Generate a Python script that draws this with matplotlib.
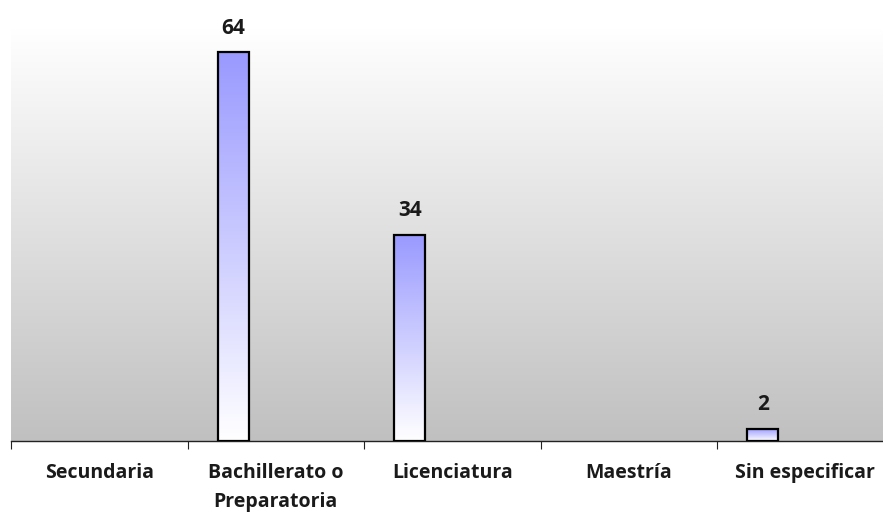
import numpy as np
import matplotlib

matplotlib.use("Agg")
import matplotlib.pyplot as plt
from matplotlib.colors import LinearSegmentedColormap

categories = ["Secundaria", "Bachillerato o\nPreparatoria", "Licenciatura", "Maestría", "Sin especificar"]
values = [0, 64, 34, 0, 2]

plt.rcParams["font.family"] = ["Open Sans", "DejaVu Sans"]

fig = plt.figure(figsize=(8.83, 5.13), dpi=100)
ax = fig.add_axes([11 / 883, 72 / 513, 5 * 176.5 / 883, 413 / 513])

n = len(categories)
ax.set_xlim(0, n)
ax.set_ylim(0, 68)

# fondo degradado blanco -> gris
bg = LinearSegmentedColormap.from_list("bg", ["#c0c0c0", "#ffffff"])
ax.imshow(np.linspace(0, 1, 256).reshape(-1, 1), cmap=bg, aspect="auto",
          extent=[0, n, 0, 68], origin="lower", zorder=0)

# barras con degradado azul -> blanco
bar_cm = LinearSegmentedColormap.from_list("bar", ["#ffffff", "#9999ff"])
pos = np.arange(n) + 0.26
w = 0.175
for x, v in zip(pos, values):
    if v <= 0:
        continue
    b = ax.bar(x, v, width=w, facecolor="none", edgecolor="black", linewidth=1.6, zorder=3)[0]
    im = ax.imshow(np.linspace(0, 1, 256).reshape(-1, 1), cmap=bar_cm, aspect="auto",
                   extent=[x - w / 2, x + w / 2, 0, v], origin="lower", zorder=2)
    im.set_clip_path(b)
    ax.text(x, v + 4.0, str(v), ha="center", va="center", fontsize=15, fontweight="bold",
            color="#1a1a1a")

ax.set_xlim(0, n)
ax.set_ylim(0, 68)

for s in ["top", "right", "left"]:
    ax.spines[s].set_visible(False)
ax.spines["bottom"].set_color("#222222")
ax.spines["bottom"].set_linewidth(1.0)
ax.set_yticks([])
ax.set_xticks(np.arange(n + 1))
ax.set_xticklabels([])
ax.tick_params(axis="x", which="major", length=6, color="#222222", direction="out")
ax.set_xticks(np.arange(n) + 0.5, minor=True)
ax.set_xticklabels(categories, minor=True, fontsize=14, fontweight="bold", color="#1a1a1a",
                   linespacing=1.6, va="top")
ax.tick_params(axis="x", which="minor", length=0, pad=15.5)

fig.savefig("out.png", dpi=100)
